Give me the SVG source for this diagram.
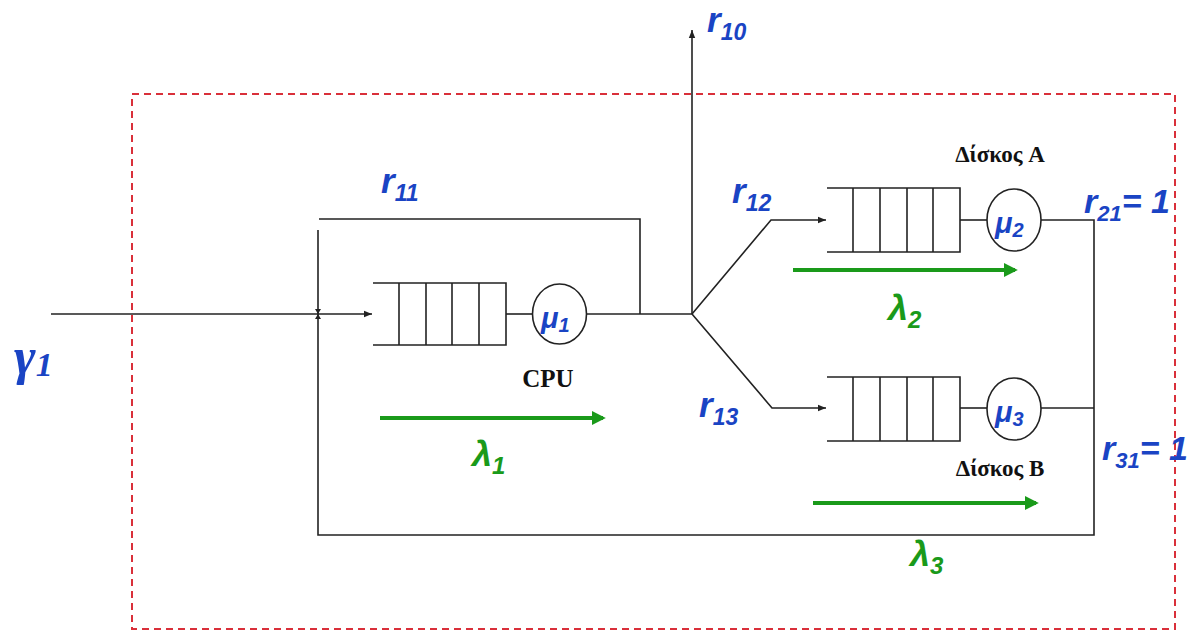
<svg xmlns="http://www.w3.org/2000/svg" width="1194" height="632" viewBox="0 0 1194 632">
<defs>
<style>
.ln{stroke:#222;stroke-width:1.6;fill:none}
.q{stroke:#222;stroke-width:1.6;fill:#fff}
.g{stroke:#1a9a1a;stroke-width:4;fill:none}
.lbl{font-family:"Liberation Sans",Arial,sans-serif;font-weight:bold;font-style:italic;fill:#1a44c4}
.lam{font-family:"Liberation Sans",Arial,sans-serif;font-weight:bold;font-style:italic;fill:#1a9a1a}
.ser{font-family:"Liberation Serif","Times New Roman",serif;font-weight:bold;fill:#111}
</style>
<marker id="ah" viewBox="0 0 10 10" refX="10" refY="5" markerWidth="8" markerHeight="8" markerUnits="userSpaceOnUse" orient="auto"><path d="M0,1 L10,5 L0,9 z" fill="#222"/></marker>
<marker id="gah" viewBox="0 0 10 10" refX="8" refY="5" markerWidth="14" markerHeight="14" markerUnits="userSpaceOnUse" orient="auto"><path d="M0,0 L10,5 L0,10 z" fill="#1a9a1a"/></marker>
</defs>
<rect x="132" y="94" width="1043" height="535" fill="none" stroke="#d9303a" stroke-width="2" stroke-dasharray="7,5"/>
<g id="connectors">
<line class="ln" x1="51" y1="314" x2="372" y2="314" marker-end="url(#ah)"/>
<polyline class="ln" points="318,230 318,535 1094,535 1094,220 1041,220"/>
<line class="ln" x1="1094" y1="408" x2="1041" y2="408"/>
<polyline class="ln" points="319,219 640,219 640,314"/>
<line class="ln" x1="506" y1="314" x2="532" y2="314"/>
<line class="ln" x1="587" y1="314" x2="692" y2="314"/>
<line class="ln" x1="692" y1="314" x2="692" y2="30" marker-end="url(#ah)"/>
<polyline class="ln" points="692,314 771,220 826,220" marker-end="url(#ah)"/>
<polyline class="ln" points="692,314 772,408 826,408" marker-end="url(#ah)"/>
<line class="ln" x1="960" y1="220" x2="987" y2="220"/>
<line class="ln" x1="960" y1="408" x2="987" y2="408"/>
<path d="M315,309 L321,309 L318,314 z M315,319 L321,319 L318,314 z" fill="#222"/>
</g>
<g id="cpu">
<path class="ln" d="M373,283 H506 V345 H373 M399,283 V345 M426,283 V345 M452,283 V345 M479,283 V345"/>
<ellipse class="q" cx="559.5" cy="314" rx="27" ry="30"/>
<text class="lbl" x="541" y="328" font-size="29">μ<tspan font-size="20" dy="4">1</tspan></text>
<text class="ser" x="548" y="387" font-size="25" text-anchor="middle">CPU</text>
</g>
<g id="diskA">
<path class="ln" d="M827,188 H960 V252 H827 M853,188 V252 M880,188 V252 M907,188 V252 M933,188 V252"/>
<ellipse class="q" cx="1014" cy="220" rx="27" ry="31"/>
<text class="lbl" x="995" y="233" font-size="29">μ<tspan font-size="20" dy="4">2</tspan></text>
<text class="ser" x="1000" y="162" font-size="23" text-anchor="middle">Δίσκος A</text>
</g>
<g id="diskB">
<path class="ln" d="M827,377 H960 V441 H827 M853,377 V441 M880,377 V441 M907,377 V441 M933,377 V441"/>
<ellipse class="q" cx="1014" cy="409" rx="27" ry="31"/>
<text class="lbl" x="995" y="422" font-size="29">μ<tspan font-size="20" dy="4">3</tspan></text>
<text class="ser" x="1000" y="476" font-size="23" text-anchor="middle">Δίσκος B</text>
</g>
<g id="flows">
<line class="g" x1="380" y1="418" x2="603" y2="418" marker-end="url(#gah)"/>
<line class="g" x1="793" y1="270" x2="1015" y2="270" marker-end="url(#gah)"/>
<line class="g" x1="813" y1="503" x2="1036" y2="503" marker-end="url(#gah)"/>
<text class="lam" x="472" y="466" font-size="36">λ<tspan font-size="24" dy="8">1</tspan></text>
<text class="lam" x="888" y="320" font-size="36">λ<tspan font-size="24" dy="8">2</tspan></text>
<text class="lam" x="910" y="566" font-size="36">λ<tspan font-size="24" dy="8">3</tspan></text>
</g>
<g id="labels">
<text class="lbl" x="707" y="32" font-size="35">r<tspan font-size="23" dy="8">10</tspan></text>
<text class="lbl" x="381" y="193" font-size="35">r<tspan font-size="23" dy="8">11</tspan></text>
<text class="lbl" x="732" y="203" font-size="35">r<tspan font-size="23" dy="8">12</tspan></text>
<text class="lbl" x="699" y="417" font-size="35">r<tspan font-size="23" dy="8">13</tspan></text>
<text class="lbl" x="1084" y="213" font-size="34">r<tspan font-size="22" dy="8">21</tspan><tspan dy="-8">= 1</tspan></text>
<text class="lbl" x="1102" y="460" font-size="34">r<tspan font-size="22" dy="8">31</tspan><tspan dy="-8">= 1</tspan></text>
<text x="14" y="374" font-size="52" font-family="'Liberation Serif','Times New Roman',serif" font-weight="bold" font-style="italic" fill="#1a44c4">γ<tspan font-size="34" dy="2">1</tspan></text>
</g>
</svg>
